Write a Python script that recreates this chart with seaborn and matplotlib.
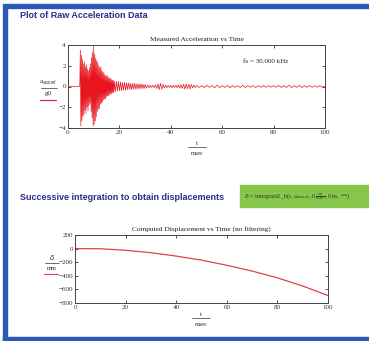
import numpy as np
import pandas as pd
import matplotlib.pyplot as plt
import seaborn as sns
from matplotlib.patches import Rectangle
from matplotlib.lines import Line2D

# --- data ---
# raw acceleration (units of g0), in segments with their own sample step
accel_pre = [0.0]                       # flat from t = 0
burst_vals = [0.0, 0.4, 3.5, -3.8, 3.0, -3.3, 2.6, -2.9, 2.2, -2.7,
              2.4, -2.3, 1.9, -2.6, 2.1, -2.0, 1.7, -2.3, 1.5, -1.8,
              1.8, -1.6, 2.2, -2.4, 2.8, -3.0, 3.3, -3.8, 4.0, -3.6,
              3.1, -3.3, 2.7, -2.9, 2.5, -2.4, 2.3, -2.2, 2.0, -2.1,
              1.8, -1.7, 1.9, -1.6, 1.5, -1.5, 1.4, -1.3, 1.3, -1.2,
              1.1, -1.2, 1.0, -1.0, 1.1, -0.9, 0.9, -0.9, 0.8, -0.8,
              0.8, -0.7, 0.7, -0.7, 0.6, -0.6, 0.6, -0.6, 0.5]
mid_vals = [-0.5, 0.5, -0.45, 0.5, -0.4, 0.45, -0.4, 0.4, -0.35, 0.4,
            -0.35, 0.35, -0.3, 0.35, -0.3, 0.3, -0.3, 0.3, -0.25, 0.3,
            -0.25, 0.25, -0.25, 0.25, -0.2, 0.25, -0.2, 0.2, -0.2, 0.2]
tail1_vals = [-0.15, 0.15, -0.12, 0.12, -0.1, 0.12, -0.1, 0.15, -0.2, 0.25,
              -0.3, 0.3, -0.25, 0.2, -0.15, 0.12, -0.1, 0.1, -0.1, 0.12,
              -0.12, 0.1, -0.1, 0.12, -0.12, 0.15, -0.15, 0.18, -0.2, 0.22,
              -0.25, 0.25, -0.2, 0.22, -0.25, 0.2, -0.15, 0.12, -0.1, 0.1]
tail2_vals = [-0.1, 0.08, -0.1, 0.1, -0.08, 0.1, -0.12, 0.12, -0.1, 0.08,
              -0.08, 0.1, -0.12, 0.1, -0.08, 0.08, -0.1, 0.12, -0.1, 0.08,
              -0.08, 0.08, -0.1, 0.08, -0.08, 0.1, -0.08, 0.08, -0.06, 0.08,
              -0.08, 0.1, -0.08, 0.08, -0.1, 0.12, -0.1, 0.08, -0.08, 0.1,
              -0.1, 0.08, -0.08, 0.1, -0.08, 0.08, -0.06, 0.08, -0.06, 0.0]

# computed displacement (mm) every 10 msec
disp_t = [0, 10, 20, 30, 40, 50, 60, 70, 80, 90, 100]
disp_mm = [0, -2, -25, -60, -110, -170, -245, -330, -430, -550, -690]

acc_yticks = [-4, -2, 0, 2, 4]
disp_yticks = [-800, -600, -400, -200, 0, 200]
x_ticks = [0, 20, 40, 60, 80, 100]

# sample times for each segment (start, step)
t_acc = np.concatenate([
    [0.0],
    4.4 + 0.2 * np.arange(len(burst_vals)),
    18.4 + 0.4 * np.arange(len(mid_vals)),
    30.5 + 0.5 * np.arange(len(tail1_vals)),
    51.0 + 1.0 * np.arange(len(tail2_vals)),
])
acc = pd.DataFrame({"t": t_acc,
                    "a": accel_pre + burst_vals + mid_vals + tail1_vals + tail2_vals})
disp = pd.DataFrame({"t": disp_t, "d": disp_mm})

sns.set_style("white")
plt.rcParams["font.family"] = ["Liberation Serif", "DejaVu Serif"]

W, H = 369, 341
fig = plt.figure(figsize=(W / 100, H / 100), dpi=100)
fig.patch.set_facecolor("white")


def fx(x):
    return x / W


def fy(y):
    return 1 - y / H


# blue worksheet frame
blue = "#2c58b8"
fig.patches.append(Rectangle((fx(3), fy(8)), fx(W), 4 / H, transform=fig.transFigure,
                             color=blue, zorder=0))
fig.patches.append(Rectangle((fx(3), fy(341)), 4 / W, fy(8) - fy(341), transform=fig.transFigure,
                             color=blue, zorder=0))
fig.patches.append(Rectangle((fx(3), 0), fx(W), 4 / H, transform=fig.transFigure,
                             color=blue, zorder=0))

navy = "#2a2f88"
fig.text(fx(20), fy(16), "Plot of Raw Acceleration Data", family="Liberation Sans",
         weight="bold", fontsize=6.5, color=navy, va="center")
fig.text(fx(20), fy(197), "Successive integration to obtain displacements",
         family="Liberation Sans", weight="bold", fontsize=6.5, color=navy, va="center")

# green formula box
fig.patches.append(Rectangle((fx(240), fy(207)), fx(W - 240), 22 / H,
                             transform=fig.transFigure, color="#86c64a", zorder=0))
fig.text(fx(244), fy(196), r"$\delta$ = integrate2_b(t, a$_{accel}$, 0$\,\frac{m}{sec}$, 0 m, **)",
         fontsize=4.6, color="#333333", va="center")


def style_axes(ax):
    ax.tick_params(direction="in", length=2.5, width=0.6, labelsize=5,
                   top=True, right=True, bottom=True, left=True, pad=1.5, colors="#333333")
    for s in ax.spines.values():
        s.set_color("#444444")
        s.set_linewidth(0.7)
    ax.set_xlabel("")
    ax.set_ylabel("")


# --- top: measured acceleration ---
ax1 = fig.add_axes([fx(68), fy(128), (325 - 68) / W, (128 - 45) / H])
sns.lineplot(data=acc, x="t", y="a", ax=ax1, color="#e8141e", linewidth=0.5,
             estimator=None, sort=False)
ax1.set_xlim(0, 100)
ax1.set_ylim(-4, 4)
ax1.set_xticks(x_ticks)
ax1.set_yticks(acc_yticks)
style_axes(ax1)
ax1.set_title("Measured Acceleration vs Time", fontsize=5.3, pad=3, color="#222222")
ax1.text(0.77, 0.8, "fs = 30.000 kHz", transform=ax1.transAxes, fontsize=5,
         ha="center", va="center", color="#222222")

# y label as a Mathcad fraction with trace sample
fig.text(fx(48), fy(83), r"a$_{accel}$", fontsize=5, ha="center", va="center")
fig.add_artist(Line2D([fx(41), fx(57)], [fy(88), fy(88)], color="#333333", lw=0.5))
fig.text(fx(48), fy(93), "g0", fontsize=5, ha="center", va="center")
fig.add_artist(Line2D([fx(40), fx(56)], [fy(100), fy(100)], color="#e8141e", lw=0.8))

# x label
fig.text(fx(197), fy(143), "t", fontsize=5, ha="center", va="center")
fig.add_artist(Line2D([fx(188), fx(206)], [fy(147), fy(147)], color="#333333", lw=0.5))
fig.text(fx(197), fy(153), "msec", fontsize=4.5, ha="center", va="center")

# --- bottom: computed displacement ---
ax2 = fig.add_axes([fx(75), fy(303), (328 - 75) / W, (303 - 235) / H])
sns.lineplot(data=disp, x="t", y="d", ax=ax2, color="#e0404f", linewidth=0.9)
ax2.set_xlim(0, 100)
ax2.set_ylim(-800, 200)
ax2.set_xticks(x_ticks)
ax2.set_yticks(disp_yticks)
style_axes(ax2)
ax2.set_title("Computed Displacement vs Time (no filtering)", fontsize=5.3, pad=3,
              color="#222222")

fig.text(fx(52), fy(258), r"$\delta$", fontsize=5, ha="center", va="center")
fig.add_artist(Line2D([fx(45), fx(59)], [fy(263), fy(263)], color="#333333", lw=0.5))
fig.text(fx(52), fy(268), "mm", fontsize=4.5, ha="center", va="center")
fig.add_artist(Line2D([fx(44), fx(58)], [fy(274), fy(274)], color="#e0404f", lw=0.8))

fig.text(fx(201), fy(314), "t", fontsize=5, ha="center", va="center")
fig.add_artist(Line2D([fx(192), fx(210)], [fy(318), fy(318)], color="#333333", lw=0.5))
fig.text(fx(201), fy(324), "msec", fontsize=4.5, ha="center", va="center")

fig.savefig("out.png", dpi=100)
